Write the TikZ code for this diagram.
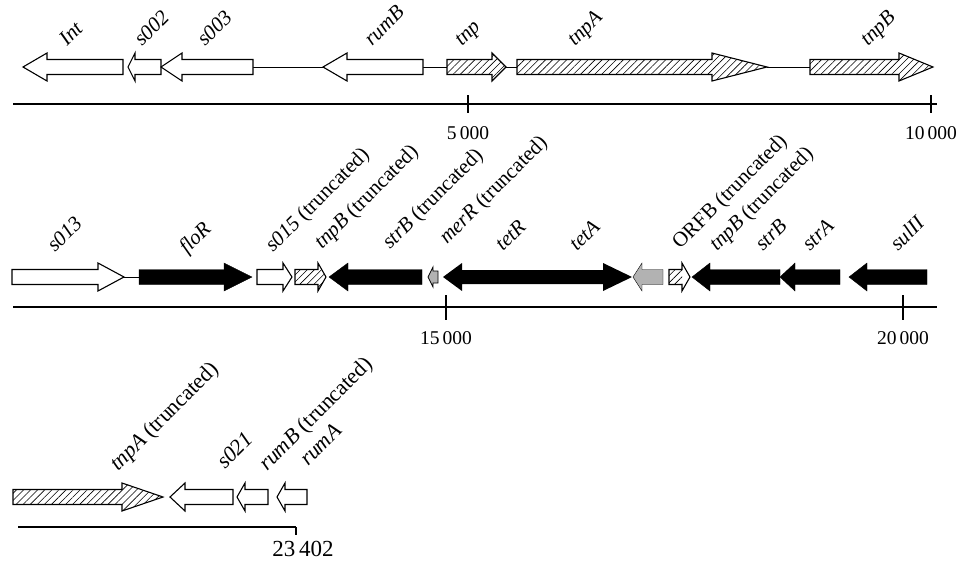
\documentclass[tikz,border=0pt]{standalone}
\usepackage{fontspec}
\setmainfont{Liberation Serif}
\usetikzlibrary{patterns.meta}

% one gene: start, head base, tip, centre line
\newcommand{\genearrow}[5][gene]{%
  \draw[#1] (#2,#5-7.5) -- (#3,#5-7.5) -- (#3,#5-14) -- (#4,#5)
    -- (#3,#5+14) -- (#3,#5+7.5) -- (#2,#5+7.5) -- cycle;}

\tikzset{
  gene/.style={draw=black,line width=1.1pt,fill=white,line join=miter},
  hatched/.style={gene,postaction={pattern={Lines[angle=45,distance=5pt,line width=0.6pt]}}},
  blackgene/.style={fill=black},
  greygene/.style={fill=black!30},
  glabel/.style={anchor=base west,rotate=45,inner sep=0pt,font=\fontsize{21}{23}\selectfont},
  biglabel/.style={glabel,font=\fontsize{22}{24}\selectfont},
  ticklabel/.style={inner sep=0pt,font=\fontsize{19.5}{21}\selectfont},
  axis/.style={line width=1.3pt},
  spacer/.style={line width=1pt}
}

\begin{document}
\begin{tikzpicture}[x=1pt,y=-1pt]
  \useasboundingbox (0,0) rectangle (962,570);

  % first row
  \draw[spacer] (253,67) -- (323,67);
  \draw[spacer] (423,67) -- (447,67);
  \draw[spacer] (506,67) -- (517,67);
  \draw[spacer] (767,67) -- (810,67);
  \genearrow{123}{47}{23}{67}
  \genearrow{161}{135}{128}{67}
  \genearrow{253}{182}{161}{67}
  \genearrow{423}{347}{323}{67}
  \genearrow[hatched]{447}{492}{506}{67}
  \genearrow[hatched]{517}{712}{767}{67}
  \genearrow[hatched]{810}{899}{933}{67}
  \node[glabel] (int) at (67,47) {\itshape Int};
  \node[glabel] (s002) at (142,47) {\itshape s002};
  \node[glabel] (s003) at (205,47) {\itshape s003};
  \node[glabel] (rumb) at (372,47) {\itshape rumB};
  \node[glabel] (tnp) at (462,47) {\itshape tnp};
  \node[glabel] (tnpa) at (575,47) {\itshape tnpA};
  \node[glabel] (tnpb) at (868,47) {\itshape tnpB};

  \draw[axis] (13,104) -- (937,104);
  \draw[axis] (468,95) -- (468,113);
  \draw[axis] (931,95) -- (931,113);
  \node[ticklabel] (t5) at (468,133) {5\,000};
  \node[ticklabel] (t10) at (931,133) {10\,000};

  % second row
  \draw[spacer] (124,277) -- (139,277);
  \genearrow{12}{98}{124}{277}
  \genearrow[blackgene]{139}{224}{252}{277}
  \genearrow{257}{283}{292}{277}
  \genearrow[hatched]{295}{318}{326}{277}
  \genearrow[blackgene]{422}{348}{329}{277}
  \draw[gene,fill=black!30,line width=0.8pt] (438,271) -- (433,271) -- (433,267) -- (428,277)
    -- (433,287) -- (433,283) -- (438,283) -- cycle;
  \fill (443,277) -- (462,263) -- (462,270) -- (603,270) -- (603,263) -- (632,277)
    -- (603,291) -- (603,284) -- (462,284) -- (462,291) -- cycle;
  \genearrow[greygene]{663}{642}{633}{277}
  \genearrow{669}{682}{690}{277}
  \fill[pattern={Lines[angle=45,distance=5pt,line width=0.6pt]}] (669,269.5) rectangle (682,284.5);
  \genearrow[blackgene]{780}{710}{692}{277}
  \genearrow[blackgene]{840}{795}{780}{277}
  \genearrow[blackgene]{927}{867}{849}{277}
  \node[glabel] (s013) at (55,253) {\itshape s013};
  \node[glabel] (flor) at (187,255) {\itshape floR};
  \node[glabel] (s015) at (273,253) {\itshape s015 \upshape (truncated)};
  \node[glabel] (tnpbt) at (322,250) {\itshape tnpB \upshape (truncated)};
  \node[glabel] (strbt) at (390,250) {\itshape strB \upshape (truncated)};
  \node[glabel] (merr) at (447,245) {\itshape merR \upshape (truncated)};
  \node[glabel] (tetr) at (503,252) {\itshape tetR};
  \node[glabel] (teta) at (577,252) {\itshape tetA};
  \node[glabel] (orfb) at (680,250) {ORFB (truncated)};
  \node[glabel] (tnpbt2) at (717,252) {\itshape tnpB \upshape (truncated)};
  \node[glabel] (strb) at (763,252) {\itshape strB};
  \node[glabel] (stra) at (810,252) {\itshape strA};
  \node[glabel] (sulii) at (898,252) {\itshape sulII};

  \draw[axis] (13,307) -- (937,307);
  \draw[axis] (446,295) -- (446,320);
  \draw[axis] (903,295) -- (903,320);
  \node[ticklabel] (t15) at (446,338) {15\,000};
  \node[ticklabel] (t20) at (903,338) {20\,000};

  % third row
  \genearrow[hatched]{13}{122}{163}{497}
  \genearrow{233}{185}{170}{497}
  \genearrow{268}{245}{237}{497}
  \genearrow{307}{285}{277}{497}
  \node[biglabel] (tnpat) at (118,472) {\itshape tnpA \upshape (truncated)};
  \node[biglabel] (s021) at (225,470) {\itshape s021};
  \node[biglabel] (rumbt) at (267,472) {\itshape rumB \upshape (truncated)};
  \node[biglabel] (ruma) at (308,467) {\itshape rumA};

  \draw[axis] (18,527) -- (296,527);
  \draw[axis] (296,527) -- (296,535);
  \node[ticklabel,font=\fontsize{23}{25}\selectfont] (tend) at (303,549) {23\,402};
\end{tikzpicture}
\end{document}
